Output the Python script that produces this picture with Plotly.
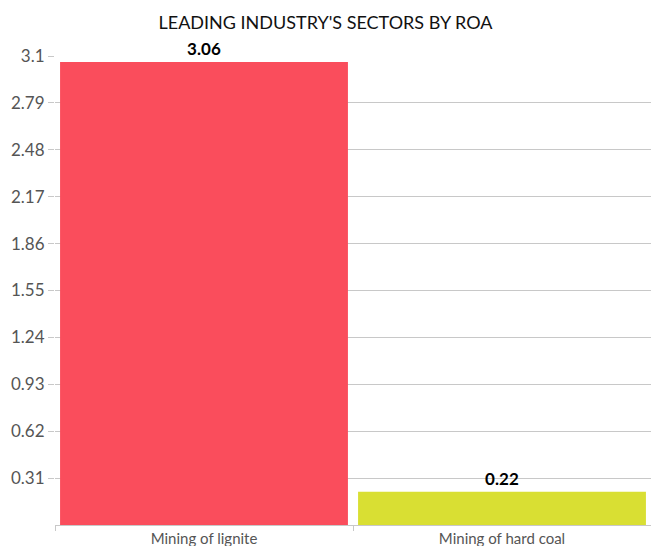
import plotly.graph_objects as go

categories = ["Mining of lignite", "Mining of hard coal"]
values = [3.06, 0.22]
colors = ["#FA4D5C", "#D9DF33"]
tick_vals = [0.31, 0.62, 0.93, 1.24, 1.55, 1.86, 2.17, 2.48, 2.79, 3.1]
tick_text = ["0.31", "0.62", "0.93", "1.24", "1.55", "1.86", "2.17", "2.48", "2.79", "3.1"]

fig = go.Figure(go.Bar(
    x=categories, y=values,
    marker=dict(color=colors, line=dict(width=0)),
    text=[f"{v:.2f}" for v in values],
    textposition="outside",
    textfont=dict(family="Lato", size=17, color="#000000", weight="bold"),
    cliponaxis=False,
    hoverinfo="skip",
))

fig.update_layout(
    width=651, height=546,
    margin=dict(l=55, r=0, t=56, b=21),
    paper_bgcolor="white", plot_bgcolor="white",
    bargap=0.034,
    showlegend=False,
    title=dict(text="LEADING INDUSTRY'S SECTORS BY ROA", x=0.5, xanchor="center",
               y=1 - 23 / 546, yanchor="middle", yref="container",
               font=dict(family="Lato", size=18, color="#111111")),
    font=dict(family="Lato"),
)
fig.update_yaxes(
    range=[0, 3.1], tickvals=tick_vals, ticktext=tick_text,
    showgrid=True, gridcolor="#C8C8C8", gridwidth=1,
    zeroline=False, showline=False,
    ticks="outside", ticklen=6, tickcolor="#C8C8C8",
    tickfont=dict(family="Lato", size=17, color="#555555"),
    ticklabelstandoff=0,
)
fig.update_xaxes(
    showline=True, linecolor="#C8C8C8", linewidth=1,
    ticks="outside", ticklen=5, tickcolor="#C8C8C8", tickson="boundaries",
    tickfont=dict(family="Lato", size=15, color="#555555"),
    showgrid=False, automargin=False,
)

fig.write_html("out.html", config={"displayModeBar": False},
               post_script="document.body.style.margin='0';document.body.style.overflow='hidden';")
